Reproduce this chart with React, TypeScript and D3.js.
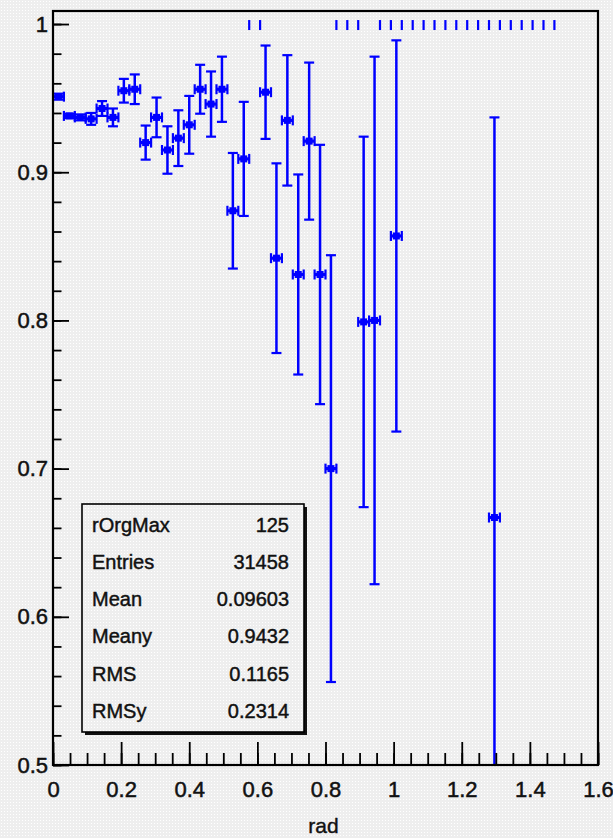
import * as d3 from "d3";
import { useEffect, useRef } from "react";

const W = 613;
const H = 838;

// profile bins (bin width 0.032 in rad)
const binWidth = 0.032;
const radCenters = [0.016, 0.048, 0.08, 0.112, 0.144, 0.176, 0.208, 0.24, 0.272, 0.304, 0.336, 0.368, 0.4, 0.432, 0.464, 0.496, 0.528, 0.56, 0.624, 0.656, 0.688, 0.72, 0.752, 0.784, 0.816, 0.912, 0.944, 1.008, 1.296];
const effValues = [0.951, 0.938, 0.937, 0.936, 0.943, 0.937, 0.955, 0.956, 0.92, 0.937, 0.915, 0.923, 0.932, 0.956, 0.946, 0.956, 0.874, 0.909, 0.954, 0.842, 0.935, 0.831, 0.921, 0.831, 0.7, 0.799, 0.8, 0.857, 0.667];
const effErrors = [0.002, 0.0015, 0.002, 0.004, 0.005, 0.006, 0.008, 0.01, 0.0115, 0.0134, 0.016, 0.0188, 0.0195, 0.0165, 0.022, 0.022, 0.039, 0.0385, 0.0315, 0.064, 0.044, 0.0675, 0.053, 0.0875, 0.144, 0.125, 0.178, 0.132, 0.27];

// bins sitting at exactly 1 with no error: only the x-error end marks show up
const unitMarks = [0.576, 0.608, 0.832, 0.864, 0.896, 0.96, 0.992, 1.024, 1.056, 1.088, 1.12, 1.152, 1.184, 1.216, 1.248, 1.28, 1.312, 1.344, 1.376, 1.408, 1.44, 1.472];

const xTickValues = [0, 0.2, 0.4, 0.6, 0.8, 1, 1.2, 1.4, 1.6];
const xTickLabels = ["0", "0.2", "0.4", "0.6", "0.8", "1", "1.2", "1.4", "1.6"];
const yTickValues = [0.5, 0.6, 0.7, 0.8, 0.9, 1];
const yTickLabels = ["0.5", "0.6", "0.7", "0.8", "0.9", "1"];
const xTitle = "rad";

const statNames = ["rOrgMax", "Entries", "Mean", "Meany", "RMS", "RMSy"];
const statValues = ["125", "31458", "0.09603", "0.9432", "0.1165", "0.2314"];

const FONT = "'Liberation Sans', Arial, Helvetica, sans-serif";
const BLUE = "#0000ff";

const App = () => {
    const ref = useRef<SVGSVGElement>(null);

    useEffect(() => {
        const svg = d3.select(ref.current);
        svg.selectAll("*").remove();

        const left = 53, right = 598, top = 11, bottom = 765;
        const x = d3.scaleLinear().domain([0, 1.6]).range([left, right]);
        const y = d3.scaleLinear().domain([0.5, 1.0088]).range([bottom, top]);

        const defs = svg.append("defs");
        const pat = defs.append("pattern").attr("id", "dots")
            .attr("width", 3).attr("height", 3).attr("patternUnits", "userSpaceOnUse");
        pat.append("rect").attr("width", 3).attr("height", 3).attr("fill", "#eeeeee");
        pat.append("rect").attr("x", 1).attr("y", 1).attr("width", 1).attr("height", 1).attr("fill", "#ffffff");
        defs.append("clipPath").attr("id", "frameClip")
            .append("rect").attr("x", left).attr("y", top)
            .attr("width", right - left).attr("height", bottom - top);

        svg.append("rect").attr("width", W).attr("height", H).attr("fill", "url(#dots)");

        // data
        const g = svg.append("g").attr("clip-path", "url(#frameClip)");
        const hw = binWidth / 2;
        radCenters.forEach((c, i) => {
            const v = effValues[i], e = effErrors[i];
            const cx = x(c), cy = y(v);
            const yHi = y(v + e), yLo = y(v - e);
            g.append("line").attr("x1", cx).attr("x2", cx).attr("y1", yHi).attr("y2", yLo)
                .attr("stroke", BLUE).attr("stroke-width", 2.5);
            [yHi, yLo].forEach((yy) => {
                if (yy > top && yy < bottom) {
                    g.append("line").attr("x1", cx - 5).attr("x2", cx + 5).attr("y1", yy).attr("y2", yy)
                        .attr("stroke", BLUE).attr("stroke-width", 2.2);
                }
            });
            g.append("line").attr("x1", x(c - hw)).attr("x2", x(c + hw)).attr("y1", cy).attr("y2", cy)
                .attr("stroke", BLUE).attr("stroke-width", 3.2);
            [c - hw, c + hw].forEach((xx) => {
                g.append("line").attr("x1", x(xx)).attr("x2", x(xx)).attr("y1", cy - 5).attr("y2", cy + 5)
                    .attr("stroke", BLUE).attr("stroke-width", 2.2);
            });
            g.append("rect").attr("x", cx - 3.5).attr("y", cy - 3.5).attr("width", 7).attr("height", 7).attr("fill", BLUE);
        });
        g.selectAll(".unit").data(unitMarks).enter().append("line")
            .attr("x1", (d) => x(d)).attr("x2", (d) => x(d))
            .attr("y1", y(1) - 4).attr("y2", y(1) + 6)
            .attr("stroke", BLUE).attr("stroke-width", 2.2);

        // axes
        const xMinor = d3.range(0, 1.6001, 0.05);
        const yMinor = d3.range(0.5, 1.0001, 0.02);
        svg.append("g").attr("transform", `translate(0,${bottom})`)
            .call(d3.axisBottom(x).tickValues(xMinor).tickSize(-12).tickSizeOuter(0).tickFormat(() => ""));
        svg.append("g").attr("transform", `translate(0,${bottom})`)
            .call(d3.axisBottom(x).tickValues(xTickValues).tickSize(-23).tickSizeOuter(0).tickPadding(16)
                .tickFormat((d, i) => xTickLabels[i]));
        svg.append("g").attr("transform", `translate(${left},0)`)
            .call(d3.axisLeft(y).tickValues(yMinor).tickSize(-8.5).tickSizeOuter(0).tickFormat(() => ""));
        svg.append("g").attr("transform", `translate(${left},0)`)
            .call(d3.axisLeft(y).tickValues(yTickValues).tickSize(-16).tickSizeOuter(0).tickPadding(5)
                .tickFormat((d, i) => yTickLabels[i]));
        svg.selectAll(".domain").remove();
        svg.selectAll(".tick line").attr("stroke", "#000").attr("stroke-width", 1.8);
        svg.selectAll(".tick text").attr("fill", "#111").attr("stroke", "#111").attr("stroke-width", 0.5)
            .style("font-family", FONT).style("font-size", "22px");

        svg.append("rect").attr("x", left).attr("y", top).attr("width", right - left).attr("height", bottom - top)
            .attr("fill", "none").attr("stroke", "#000").attr("stroke-width", 2.2);

        svg.append("text").attr("x", (left + right) / 2 - 2).attr("y", 833)
            .attr("text-anchor", "middle").attr("fill", "#111").attr("stroke", "#111").attr("stroke-width", 0.4)
            .style("font-family", FONT).style("font-size", "21px")
            .text(xTitle);

        // stats box
        const bx = 82, by = 504, bw = 222, bh = 228;
        svg.append("rect").attr("x", bx + 3).attr("y", by + 3).attr("width", bw).attr("height", bh).attr("fill", "#111");
        svg.append("rect").attr("x", bx).attr("y", by).attr("width", bw).attr("height", bh)
            .attr("fill", "url(#dots)").attr("stroke", "#000").attr("stroke-width", 1.6);
        const row = d3.scaleLinear().domain([0, statNames.length - 1]).range([531.5, 718]);
        statNames.forEach((name, i) => {
            svg.append("text").attr("x", bx + 10).attr("y", row(i))
                .attr("fill", "#111").attr("stroke", "#111").attr("stroke-width", 0.45)
                .style("font-family", FONT).style("font-size", "20px").text(name);
            svg.append("text").attr("x", bx + bw - 15).attr("y", row(i)).attr("text-anchor", "end")
                .attr("fill", "#111").attr("stroke", "#111").attr("stroke-width", 0.45)
                .style("font-family", FONT).style("font-size", "20px").text(statValues[i]);
        });
    }, []);

    return <svg ref={ref} width={W} height={H} style={{ position: "absolute", left: 0, top: 0 }} />;
};

export default App;
